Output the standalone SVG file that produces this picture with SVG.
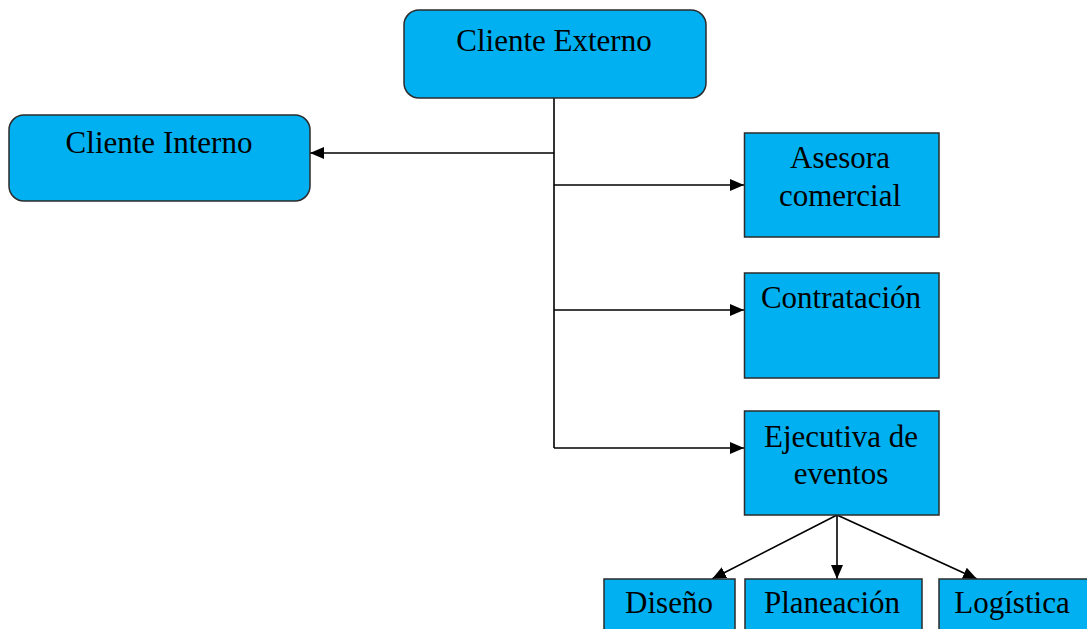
<svg xmlns="http://www.w3.org/2000/svg" width="1087" height="629" viewBox="0 0 1087 629">
<style>
.box{fill:#00B0F0;stroke:#2b2b2b;stroke-width:1.5}
.t{font-family:"Liberation Serif","Times New Roman",serif;font-size:31px;fill:#000;text-anchor:middle}
.c{stroke:#000;stroke-width:1.6;fill:none}
</style>
<defs>
<marker id="ar" viewBox="0 0 14 12" refX="14" refY="6" markerWidth="14" markerHeight="12" markerUnits="userSpaceOnUse" orient="auto">
<path d="M0,0 L14,6 L0,12 Z" fill="#000"/>
</marker>
</defs>
<rect width="1087" height="629" fill="#fff"/>
<g id="connectors">
<path class="c" d="M554,98 V448"/>
<path class="c" d="M554,153 H310" marker-end="url(#ar)"/>
<path class="c" d="M554,185 H744" marker-end="url(#ar)"/>
<path class="c" d="M554,310 H744" marker-end="url(#ar)"/>
<path class="c" d="M554,448 H744" marker-end="url(#ar)"/>
<path class="c" d="M837,515 L712,579" marker-end="url(#ar)"/>
<path class="c" d="M837,515 V579" marker-end="url(#ar)"/>
<path class="c" d="M837,515 L977,579" marker-end="url(#ar)"/>
</g>
<g id="cliente-externo">
<rect class="box" x="404" y="10" width="302" height="88" rx="15"/>
<text class="t" x="554" y="51">Cliente Externo</text>
</g>
<g id="cliente-interno">
<rect class="box" x="9" y="115" width="301" height="86" rx="15"/>
<text class="t" x="159" y="153">Cliente Interno</text>
</g>
<g id="asesora">
<rect class="box" x="744.5" y="133" width="194.5" height="104"/>
<text class="t" x="840" y="168">Asesora</text>
<text class="t" x="840" y="206">comercial</text>
</g>
<g id="contratacion">
<rect class="box" x="744.5" y="273" width="194.5" height="105"/>
<text class="t" x="841" y="308">Contratación</text>
</g>
<g id="ejecutiva">
<rect class="box" x="744.5" y="411" width="194.5" height="104"/>
<text class="t" x="841" y="447">Ejecutiva de</text>
<text class="t" x="841" y="484">eventos</text>
</g>
<g id="diseno">
<rect class="box" x="604" y="579" width="131" height="60"/>
<text class="t" x="669" y="613">Diseño</text>
</g>
<g id="planeacion">
<rect class="box" x="745" y="579" width="177" height="60"/>
<text class="t" x="832" y="613">Planeación</text>
</g>
<g id="logistica">
<rect class="box" x="939" y="579" width="160" height="60"/>
<text class="t" x="1012" y="613">Logística</text>
</g>
</svg>
